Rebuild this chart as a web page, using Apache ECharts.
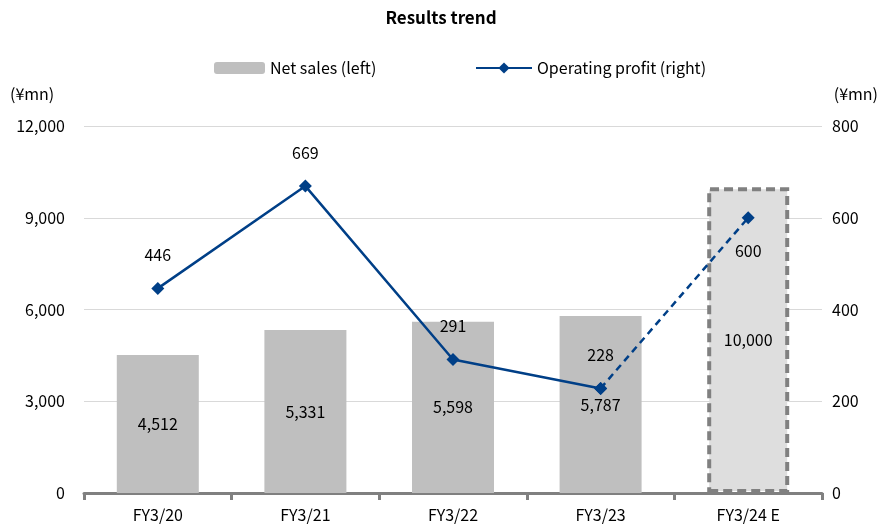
<!DOCTYPE html>
<html><head><meta charset="utf-8">
<script src="https://cdn.jsdelivr.net/npm/echarts@6/dist/echarts.min.js"></script>
<style>html,body{margin:0;padding:0;background:#fff}#c{width:882px;height:530px}</style>
</head><body><div id="c"></div>
<script>
const categories = ['FY3/20','FY3/21','FY3/22','FY3/23','FY3/24 E'];
const netSales = [4512, 5331, 5598, 5787, 10000];
const opProfit = [446, 669, 291, 228, 600];
const leftTicks = [0, 3000, 6000, 9000, 12000];
const rightTicks = [0, 200, 400, 600, 800];
const FONT = '"Noto Sans CJK JP", "Noto Sans", sans-serif';

const chart = echarts.init(document.getElementById('c'));
const barData = netSales.map((v, i) => i === netSales.length - 1 ? {
  value: v,
  itemStyle: { color: '#dedede', borderColor: '#808080', borderWidth: 4, borderType: [9, 5] }
} : v);
const solidLine = opProfit.map((v, i) => i < opProfit.length - 1 ? v : '-');
const dashLine = opProfit.map((v, i) => i >= opProfit.length - 2 ? v : '-');

chart.setOption({
  animation: false,
  textStyle: { fontFamily: FONT },
  title: { text: 'Results trend', left: 'center', top: 4,
    textStyle: { fontSize: 17, fontWeight: 'bold', color: '#000', fontFamily: FONT } },
  legend: [
    { data: ['Net sales (left)'], left: 209, top: 55, itemWidth: 51, itemHeight: 12, itemGap: 4,
      textStyle: { fontSize: 16, color: '#000', fontFamily: FONT } },
    { data: ['Operating profit (right)'], left: 470, top: 55, itemWidth: 56, itemHeight: 14,
      textStyle: { fontSize: 16, color: '#000', fontFamily: FONT } }
  ],
  graphic: [
    { type: 'text', left: 10, top: 86, style: { text: '(¥mn)', font: '16px ' + FONT, fill: '#000' } },
    { type: 'text', right: 4, top: 86, style: { text: '(¥mn)', font: '16px ' + FONT, fill: '#000' } }
  ],
  grid: { left: 84, right: 60, top: 126, bottom: 37 },
  xAxis: {
    type: 'category', data: categories, boundaryGap: true,
    axisLine: { lineStyle: { color: '#808080', width: 3 } },
    axisTick: { show: true, length: 7, lineStyle: { color: '#808080', width: 3 } },
    axisLabel: { fontSize: 16, color: '#000', margin: 14, fontFamily: FONT }
  },
  yAxis: [
    { type: 'value', min: leftTicks[0], max: leftTicks[leftTicks.length - 1], interval: 3000,
      axisLine: { show: false }, axisTick: { show: false },
      axisLabel: { fontSize: 16, color: '#000', margin: 19, fontFamily: FONT,
        formatter: v => v.toLocaleString('en-US') },
      splitLine: { lineStyle: { color: '#d9d9d9', width: 1 } } },
    { type: 'value', min: rightTicks[0], max: rightTicks[rightTicks.length - 1], interval: 200,
      axisLine: { show: false }, axisTick: { show: false },
      axisLabel: { fontSize: 16, color: '#000', margin: 10, fontFamily: FONT },
      splitLine: { show: false } }
  ],
  series: [
    { name: 'Net sales (left)', type: 'bar', yAxisIndex: 0, data: barData, barWidth: 82,
      itemStyle: { color: '#bfbfbf' },
      label: { show: true, position: 'inside', fontSize: 16, color: '#000', fontFamily: FONT,
        formatter: p => p.value.toLocaleString('en-US') } },
    { name: 'Operating profit (right)', type: 'line', yAxisIndex: 1, data: solidLine,
      symbol: 'diamond', symbolSize: 13, color: '#003f87',
      lineStyle: { color: '#003f87', width: 2.5 }, itemStyle: { color: '#003f87' },
      label: { show: true, position: 'top', distance: 19, fontSize: 16, color: '#000', fontFamily: FONT }, z: 5 },
    { name: 'Operating profit forecast', type: 'line', yAxisIndex: 1, data: dashLine,
      symbol: 'diamond', symbolSize: 13, color: '#003f87',
      lineStyle: { color: '#003f87', width: 2.5, type: [7, 5] }, itemStyle: { color: '#003f87' },
      label: { show: true, position: 'bottom', distance: 19, fontSize: 16, color: '#000', fontFamily: FONT,
        formatter: p => p.dataIndex === opProfit.length - 1 ? p.value : '' }, z: 4 }
  ]
});
</script></body></html>
